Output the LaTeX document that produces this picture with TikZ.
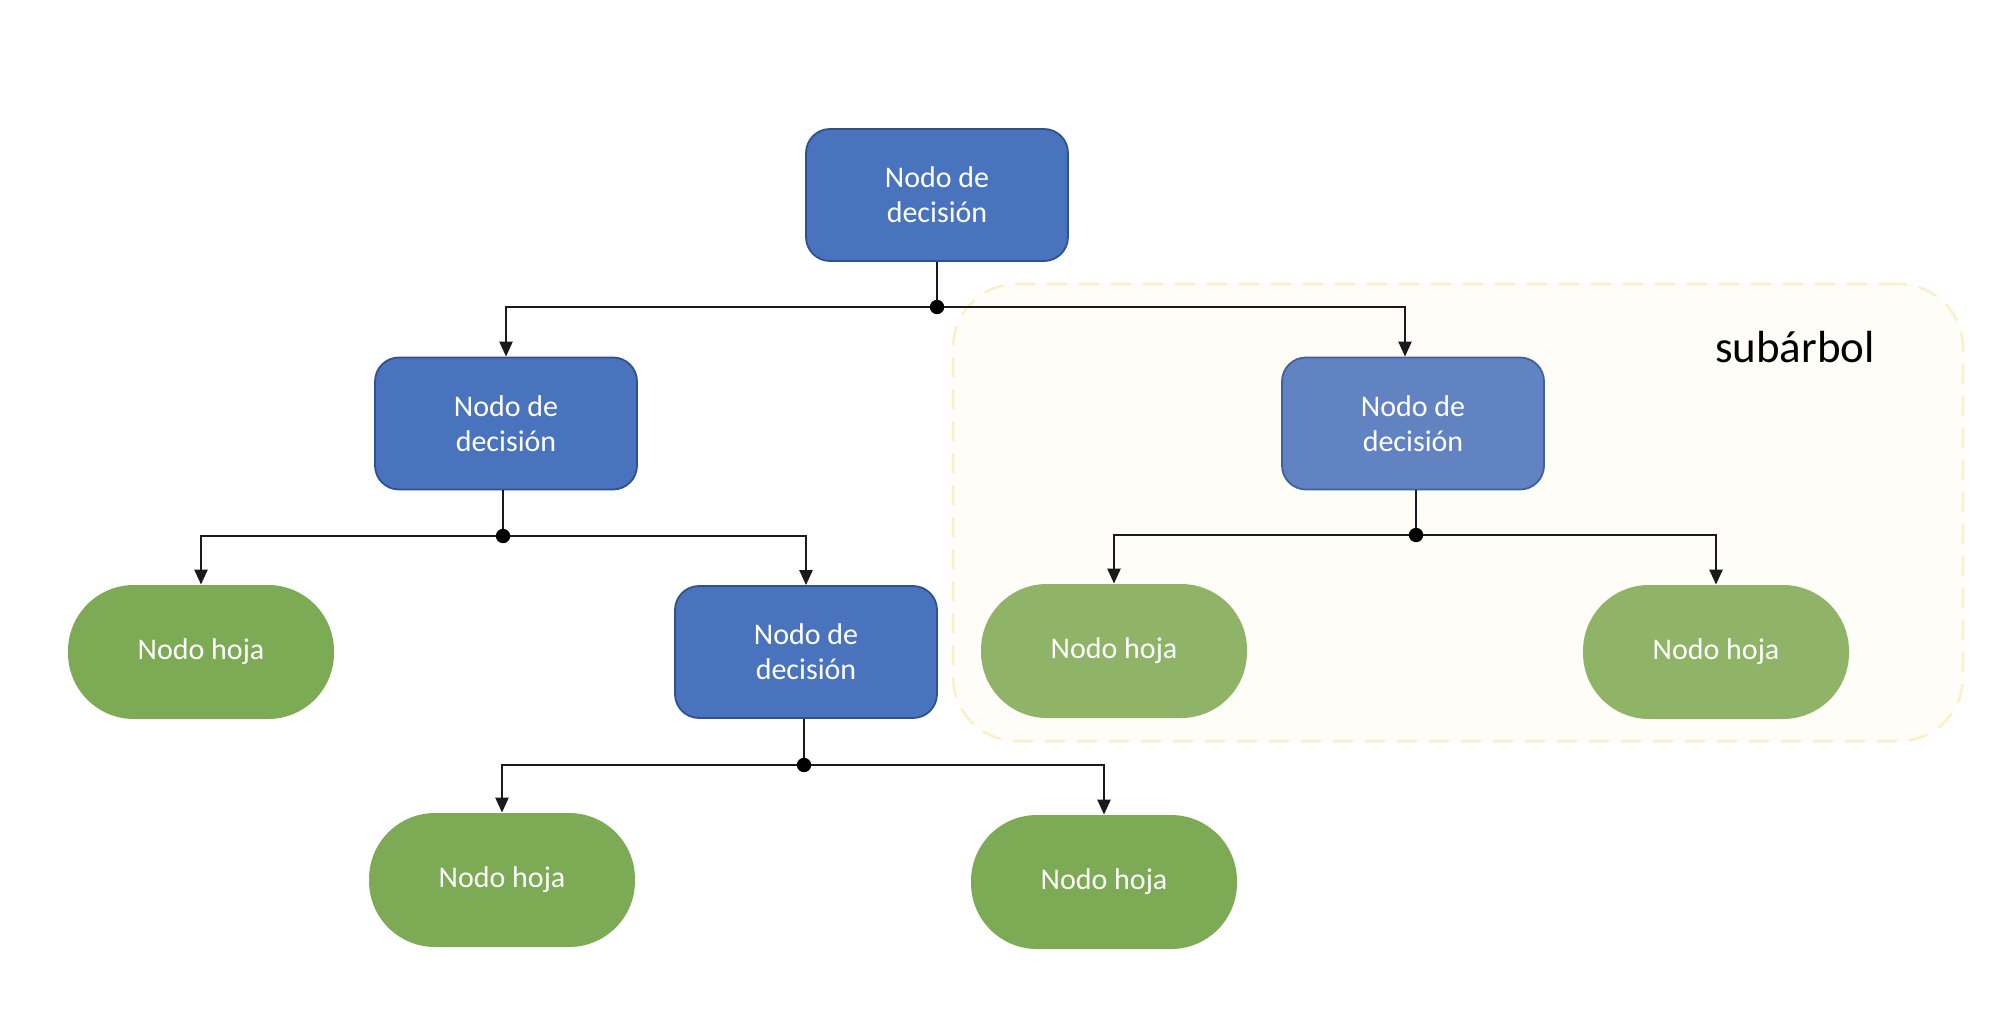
\documentclass[tikz,border=0pt]{standalone}
\usepackage{fontspec}
\setmainfont{Carlito}
\usetikzlibrary{arrows.meta}
\definecolor{dblue}{HTML}{4A73BD}
\definecolor{dblueline}{HTML}{2F528F}
\definecolor{lblue}{HTML}{6283C2}
\definecolor{lblueline}{HTML}{41619B}
\definecolor{dgreen}{HTML}{7DAA55}
\definecolor{lgreen}{HTML}{8FB468}
\definecolor{boxfill}{HTML}{FEFDF8}
\definecolor{boxline}{HTML}{FCF0CC}
\definecolor{connc}{HTML}{1A1A1A}
\begin{document}
\begin{tikzpicture}[x=0.5pt,y=-0.5pt,
 decision/.style={draw=dblueline, fill=dblue, line width=0.9pt, rounded corners=12pt,
   minimum width=131pt, minimum height=66pt, text=white, align=center,
   font=\fontsize{15}{17.5}\selectfont, inner sep=0pt},
 lightdecision/.style={decision, fill=lblue, draw=lblueline},
 leaf/.style={fill=dgreen, rounded corners=33pt, minimum width=133pt, minimum height=67pt,
   text=white, font=\fontsize{15}{18}\selectfont, inner sep=0pt},
 lightleaf/.style={leaf, fill=lgreen},
 conn/.style={draw=connc, line width=1.2pt, -{Triangle[length=7.5pt,width=6.5pt]}},
 stem/.style={draw=connc, line width=1.2pt},
]
\useasboundingbox (0,0) rectangle (2016,1010);
\fill[white] (0,0) rectangle (2016,1010);
% subtree region
\node[fill=boxfill, draw=boxline, dash pattern=on 10pt off 6pt, line width=1.3pt,
  rounded corners=32pt, minimum width=505pt, minimum height=228.5pt, inner sep=0pt]
  (sub) at (1458,512.5) {};
\node[font=\fontsize{22.5}{27}\selectfont, text=black] (sublabel) at (1795,347) {subárbol};
% nodes
\node[decision] (d1) at (937,195) {Nodo de\\decisión};
\node[decision] (d2) at (506,423.5) {Nodo de\\decisión};
\node[lightdecision] (d3) at (1413,423.5) {Nodo de\\decisión};
\node[decision] (d4) at (806,652) {Nodo de\\decisión};
\node[leaf] (l1) at (201,652) {Nodo hoja};
\node[leaf] (l2) at (502,880) {Nodo hoja};
\node[leaf] (l3) at (1104,882) {Nodo hoja};
\node[lightleaf] (l4) at (1114,651) {Nodo hoja};
\node[lightleaf] (l5) at (1716,652) {Nodo hoja};
% junctions
\coordinate (j1) at (937,307);
\coordinate (j2) at (503,536);
\coordinate (j3) at (804,765);
\coordinate (j4) at (1416,535);
% connectors
\draw[stem] (d1.south) -- (j1);
\draw[conn] (j1) -| (d2.north);
\draw[conn] (j1) -| ([xshift=-4pt]d3.north);
\draw[stem] (j2 |- d2.south) -- (j2);
\draw[conn] (j2) -| (l1.north);
\draw[conn] (j2) -| (d4.north);
\draw[stem] (j3 |- d4.south) -- (j3);
\draw[conn] (j3) -| (l2.north);
\draw[conn] (j3) -| (l3.north);
\draw[stem] (j4 |- d3.south) -- (j4);
\draw[conn] (j4) -| (l4.north);
\draw[conn] (j4) -| (l5.north);
\foreach \j in {j1,j2,j3,j4} \fill[black] (\j) circle (3.6pt);
\end{tikzpicture}
\end{document}
